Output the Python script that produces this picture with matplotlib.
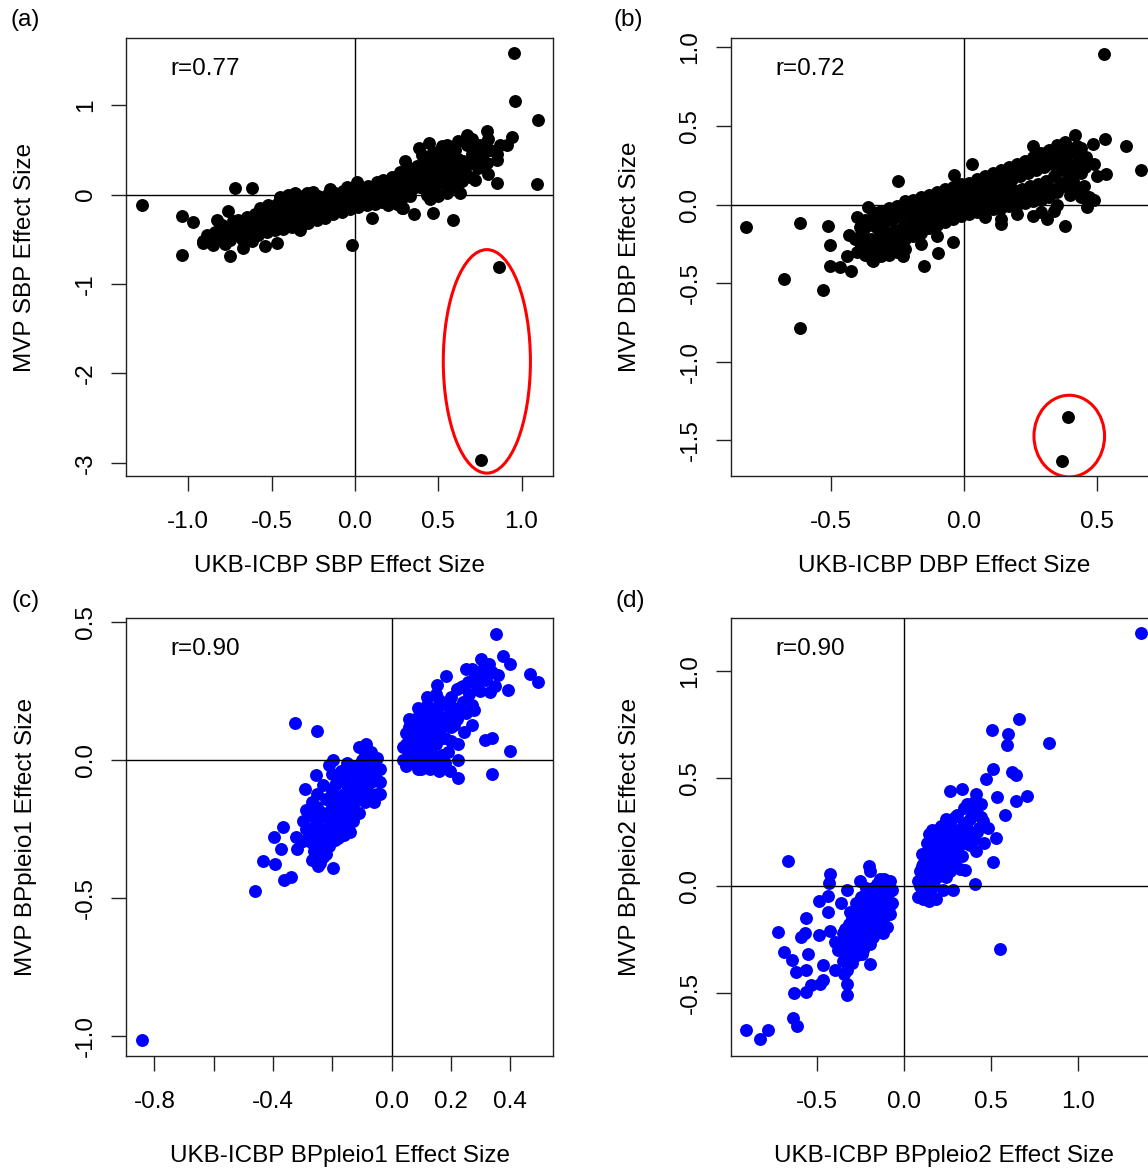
import matplotlib.pyplot as plt
import numpy as np
from matplotlib.patches import Ellipse

plt.rcParams["font.family"] = ["Liberation Sans", "DejaVu Sans"]
plt.rcParams["axes.unicode_minus"] = False

# (x, y) effect sizes, one list per panel
SBP_POINTS = [
    (0.957, 1.587), (0.959, 1.045), (1.099, 0.832), (1.093, 0.12), (-1.279, -0.12),
    (-1.039, -0.243), (-0.969, -0.31), (-1.039, -0.672), (-0.719, 0.075), (-0.615, 0.075),
    (-0.018, -0.567), (0.863, -0.814), (0.757, -2.967), (0.102, -0.261), (0.352, -0.213),
    (0.466, -0.20), (0.586, -0.28), (0.853, 0.13), (0.80, 0.23), (0.673, 0.67),
    (0.793, 0.71), (0.943, 0.646), (0.91, 0.56), (0.853, 0.39), (0.442, 0.58),
    (0.382, 0.52), (0.52, 0.54), (0.632, 0.02), (0.282, -0.15), (-0.749, -0.69),
    (-0.669, -0.60), (-0.909, -0.54), (-0.829, -0.28), (-0.759, -0.187), (-0.539, -0.58),
    (-0.47, -0.54), (-0.33, -0.39), (0.72, 0.168), (0.59, 0.15), (0.73, 0.56),
    (-0.91, -0.52), (-0.89, -0.45), (-0.86, -0.50), (-0.84, -0.42), (-0.85, -0.56),
    (-0.81, -0.48), (-0.79, -0.40), (-0.80, -0.34), (-0.78, -0.55), (-0.76, -0.45),
    (-0.74, -0.38), (-0.75, -0.51), (-0.73, -0.30), (-0.71, -0.44), (-0.69, -0.36),
    (-0.70, -0.28), (-0.68, -0.50), (-0.66, -0.40), (-0.64, -0.33), (-0.65, -0.25),
    (-0.63, -0.47), (-0.61, -0.38), (-0.59, -0.30), (-0.60, -0.22), (-0.58, -0.45),
    (-0.62, -0.52), (-0.57, -0.15), (-0.56, -0.36), (-0.54, -0.28), (-0.55, -0.20),
    (-0.53, -0.42), (-0.52, -0.12), (-0.51, -0.34), (-0.49, -0.26), (-0.50, -0.18),
    (-0.48, -0.40), (-0.47, -0.11), (-0.46, -0.32), (-0.44, -0.24), (-0.45, -0.16),
    (-0.43, -0.38), (-0.42, -0.09), (-0.41, -0.30), (-0.39, -0.22), (-0.40, -0.14),
    (-0.38, -0.36), (-0.37, -0.07), (-0.36, -0.28), (-0.34, -0.20), (-0.35, -0.12),
    (-0.33, -0.34), (-0.32, -0.05), (-0.31, -0.26), (-0.29, -0.18), (-0.30, -0.10),
    (-0.28, -0.32), (-0.27, -0.04), (-0.29, 0.02), (-0.26, -0.22), (-0.24, -0.15),
    (-0.25, -0.08), (-0.23, -0.28), (-0.22, -0.02), (-0.21, -0.20), (-0.19, -0.13),
    (-0.20, -0.06), (-0.18, -0.26), (-0.17, 0.00), (-0.16, -0.17), (-0.14, -0.10),
    (-0.15, -0.04), (-0.13, -0.22), (-0.12, 0.02), (-0.11, -0.14), (-0.09, -0.08),
    (-0.10, -0.02), (-0.08, -0.19), (-0.07, 0.04), (-0.06, -0.12), (-0.04, -0.06),
    (-0.05, 0.00), (-0.03, -0.16), (-0.02, 0.06), (-0.01, -0.10), (0.01, -0.03),
    (0.00, 0.03), (0.02, -0.14), (0.03, 0.08), (0.01, 0.14), (0.04, -0.08),
    (0.06, 0.00), (0.05, 0.05), (0.07, -0.12), (0.08, 0.10), (0.09, -0.05),
    (0.11, 0.02), (0.10, 0.08), (0.12, -0.10), (0.13, 0.14), (0.14, -0.03),
    (0.16, 0.04), (0.15, 0.10), (0.17, 0.16), (0.16, -0.08), (0.19, 0.00),
    (0.21, 0.07), (0.20, 0.14), (0.22, 0.20), (0.18, -0.06), (0.24, 0.02),
    (0.26, 0.10), (0.25, 0.17), (0.27, 0.25), (0.23, -0.05), (0.29, 0.05),
    (0.31, 0.13), (0.30, 0.20), (0.32, 0.30), (0.28, -0.04), (0.30, 0.38),
    (0.34, 0.06), (0.36, 0.15), (0.35, 0.23), (0.37, 0.32), (0.33, -0.02),
    (0.39, 0.08), (0.41, 0.17), (0.40, 0.26), (0.42, 0.36), (0.40, 0.44),
    (0.44, 0.10), (0.46, 0.20), (0.45, 0.30), (0.47, 0.40), (0.43, 0.00),
    (0.49, 0.12), (0.51, 0.22), (0.50, 0.32), (0.52, 0.42), (0.48, 0.05),
    (0.54, 0.15), (0.56, 0.25), (0.55, 0.35), (0.57, 0.45), (0.59, 0.10),
    (0.61, 0.20), (0.60, 0.30), (0.62, 0.40), (0.60, 0.50), (0.64, 0.15),
    (0.66, 0.25), (0.65, 0.38), (0.67, 0.55), (0.69, 0.20), (0.71, 0.35),
    (0.70, 0.45), (0.74, 0.30), (0.76, 0.42), (0.75, 0.55), (0.79, 0.35),
    (0.81, 0.50), (0.80, 0.62),
    (-0.875, -0.47), (-0.825, -0.45), (-0.775, -0.42), (-0.725, -0.40), (-0.675, -0.32),
    (-0.625, -0.36), (-0.575, -0.33), (-0.525, -0.24), (-0.475, -0.29), (-0.425, -0.19),
    (-0.375, -0.25), (-0.325, -0.15), (-0.275, -0.22), (-0.225, -0.10), (-0.175, -0.17),
    (-0.125, -0.05), (-0.075, -0.11), (-0.025, -0.03), (0.025, -0.06), (0.075, 0.04),
    (0.125, 0.05), (0.175, 0.10), (0.225, 0.03), (0.275, 0.14), (0.325, 0.09),
    (0.375, 0.20), (0.425, 0.13), (0.475, 0.26), (0.525, 0.17), (0.575, 0.30),
    (0.625, 0.25), (0.675, 0.33), (0.725, 0.40), (0.775, 0.48), (0.85, 0.45),
    (0.87, 0.55), (0.62, 0.60), (0.70, 0.62), (0.55, 0.55), (0.47, 0.48),
    (-0.15, 0.06), (-0.25, 0.03), (-0.35, 0.00), (-0.05, 0.09), (-0.40, 0.00),
    (-0.45, -0.03), (-0.36, 0.02), (0.29, -0.15), (0.25, -0.10), (0.20, -0.12),
    (0.45, -0.05), (0.50, -0.02), (0.55, 0.02), (0.56, 0.06), (0.60, 0.08),
]

DBP_POINTS = [
    (0.525, 0.96), (0.61, 0.375), (0.665, 0.22), (-0.818, -0.144), (-0.613, -0.12),
    (-0.676, -0.473), (-0.528, -0.545), (-0.613, -0.785), (0.392, -1.354), (0.37, -1.63),
    (0.031, 0.255), (-0.037, 0.187), (-0.247, 0.151), (-0.151, -0.389), (-0.096, -0.31),
    (-0.041, -0.24), (0.38, -0.137), (0.259, 0.372), (0.416, 0.44), (0.53, 0.42),
    (0.534, 0.192), (0.484, 0.384), (0.462, -0.017), (0.488, 0.03), (0.14, -0.125),
    (-0.509, -0.137), (-0.503, -0.257), (-0.503, -0.389), (-0.463, -0.40), (-0.424, -0.425),
    (-0.437, -0.33), (-0.43, -0.197), (-0.358, -0.017), (-0.345, -0.353), (-0.227, -0.33),
    (0.311, -0.09), (0.337, -0.04), (0.44, 0.36), (0.46, 0.30), (0.49, 0.26),
    (0.50, 0.18), (0.45, 0.12), (0.42, 0.10), (0.47, 0.05), (0.40, 0.06),
    (-0.40, -0.30), (-0.41, -0.22), (-0.39, -0.14), (-0.40, -0.08), (-0.37, -0.32),
    (-0.36, -0.25), (-0.38, -0.17), (-0.37, -0.10), (-0.34, -0.30), (-0.35, -0.22),
    (-0.33, -0.14), (-0.34, -0.05), (-0.34, -0.36), (-0.31, -0.28), (-0.32, -0.20),
    (-0.30, -0.12), (-0.31, -0.04), (-0.31, -0.33), (-0.28, -0.26), (-0.29, -0.18),
    (-0.27, -0.10), (-0.28, -0.02), (-0.28, -0.32), (-0.25, -0.25), (-0.26, -0.16),
    (-0.24, -0.08), (-0.25, -0.01), (-0.25, -0.30), (-0.22, -0.22), (-0.23, -0.14),
    (-0.21, -0.06), (-0.22, 0.02), (-0.22, -0.28), (-0.19, -0.20), (-0.20, -0.12),
    (-0.18, -0.04), (-0.19, 0.03), (-0.16, -0.18), (-0.17, -0.10), (-0.15, -0.02),
    (-0.16, 0.05), (-0.16, -0.25), (-0.13, -0.15), (-0.14, -0.08), (-0.12, 0.00),
    (-0.13, 0.06), (-0.10, -0.13), (-0.11, -0.06), (-0.09, 0.01), (-0.10, 0.08),
    (-0.10, -0.20), (-0.07, -0.11), (-0.08, -0.04), (-0.06, 0.03), (-0.07, 0.10),
    (-0.04, -0.09), (-0.05, -0.02), (-0.03, 0.04), (-0.04, 0.11), (-0.01, -0.07),
    (-0.02, 0.00), (0.00, 0.06), (-0.01, 0.13), (0.02, -0.06), (0.01, 0.01),
    (0.03, 0.07), (0.02, 0.14), (0.05, -0.05), (0.04, 0.02), (0.06, 0.09),
    (0.05, 0.16), (0.08, -0.04), (0.07, 0.04), (0.09, 0.11), (0.08, 0.18),
    (0.08, -0.08), (0.11, -0.03), (0.10, 0.05), (0.12, 0.12), (0.11, 0.20),
    (0.14, -0.02), (0.13, 0.06), (0.15, 0.14), (0.14, 0.22), (0.14, -0.09),
    (0.17, -0.01), (0.16, 0.08), (0.18, 0.16), (0.17, 0.24), (0.20, 0.00),
    (0.19, 0.09), (0.21, 0.18), (0.20, 0.26), (0.20, -0.06), (0.23, 0.01),
    (0.22, 0.10), (0.24, 0.20), (0.23, 0.28), (0.26, 0.02), (0.25, 0.12),
    (0.27, 0.22), (0.26, 0.30), (0.26, -0.07), (0.29, 0.03), (0.28, 0.13),
    (0.30, 0.24), (0.29, 0.33), (0.29, -0.05), (0.32, 0.05), (0.31, 0.15),
    (0.33, 0.26), (0.32, 0.35), (0.35, 0.08), (0.34, 0.18), (0.36, 0.28),
    (0.35, 0.38), (0.35, 0.00), (0.38, 0.12), (0.37, 0.22), (0.39, 0.32),
    (0.38, 0.40), (0.41, 0.15), (0.40, 0.25), (0.42, 0.33), (0.44, 0.20),
    (0.43, 0.28), (0.44, 0.05),
    (-0.385, -0.26), (-0.355, -0.13), (-0.325, -0.25), (-0.295, -0.08), (-0.265, -0.21),
    (-0.235, -0.04), (-0.205, -0.16), (-0.175, 0.00), (-0.145, -0.13), (-0.115, 0.03),
    (-0.085, -0.08), (-0.055, 0.07), (-0.025, -0.05), (0.005, 0.09), (0.035, -0.02),
    (0.065, 0.12), (0.095, 0.00), (0.125, 0.16), (0.155, 0.02), (0.185, 0.20),
    (0.215, 0.05), (0.245, 0.24), (0.275, 0.08), (0.305, 0.28), (0.335, 0.10),
    (0.365, 0.33), (0.395, 0.18), (0.425, 0.37), (0.455, 0.24),
    (-0.385, -0.19), (-0.355, -0.28), (-0.325, -0.09), (-0.295, -0.23), (-0.265, -0.05),
    (-0.235, -0.19), (-0.205, -0.01), (-0.175, -0.15), (-0.145, 0.02), (-0.115, -0.10),
    (-0.085, 0.05), (-0.055, -0.07), (-0.025, 0.08), (0.005, -0.03), (0.035, 0.11),
    (0.065, 0.00), (0.095, 0.15), (0.125, 0.01), (0.155, 0.19), (0.185, 0.04),
    (0.215, 0.22), (0.245, 0.06), (0.275, 0.26), (0.305, 0.09), (0.335, 0.30),
    (0.365, 0.14), (0.395, 0.36), (0.425, 0.22),
]

PLEIO1_POINTS = [
    (-0.8425, -1.012), (-0.46, -0.473), (-0.326, 0.136), (-0.251, 0.106), (0.3525, 0.458),
    (0.3775, 0.38), (0.40, 0.35), (0.4675, 0.3125), (0.496, 0.285), (0.40, 0.033),
    (0.34, -0.049), (0.224, -0.065), (0.196, -0.038), (0.224, 0.0), (0.225, 0.061),
    (0.315, 0.075), (0.34, 0.082), (0.3925, 0.255), (0.334, 0.247), (0.2775, 0.183),
    (0.184, 0.306), (0.1525, 0.272), (0.3025, 0.367), (0.2525, 0.333), (0.259, 0.285),
    (0.234, 0.265), (0.246, 0.102), (0.271, 0.129), (-0.1975, -0.391), (-0.2475, -0.383),
    (-0.3625, -0.435), (-0.3375, -0.424), (-0.394, -0.374), (-0.435, -0.364), (-0.3725, -0.322),
    (-0.3975, -0.276), (-0.366, -0.242), (-0.3225, -0.279), (-0.319, -0.322), (-0.30, -0.292),
    (-0.22, -0.34), (-0.2475, -0.3125), (-0.291, -0.105), (-0.254, -0.054), (-0.21, -0.016),
    (-0.1975, 0.003), (-0.11, 0.048), (-0.085, 0.058),
    (-0.30, -0.22), (-0.28, -0.25), (-0.27, -0.20), (-0.26, -0.28), (-0.25, -0.22),
    (-0.25, -0.17), (-0.24, -0.30), (-0.24, -0.25), (-0.23, -0.19), (-0.22, -0.14),
    (-0.22, -0.27), (-0.21, -0.22), (-0.20, -0.17), (-0.20, -0.11), (-0.19, -0.25),
    (-0.19, -0.20), (-0.18, -0.14), (-0.18, -0.08), (-0.17, -0.22), (-0.17, -0.17),
    (-0.16, -0.12), (-0.16, -0.06), (-0.15, -0.20), (-0.15, -0.15), (-0.14, -0.10),
    (-0.14, -0.04), (-0.13, -0.17), (-0.13, -0.12), (-0.12, -0.07), (-0.12, -0.02),
    (-0.11, -0.14), (-0.11, -0.09), (-0.10, -0.05), (-0.10, 0.00), (-0.09, -0.11),
    (-0.09, -0.06), (-0.08, -0.02), (-0.08, 0.02), (-0.07, -0.08), (-0.07, -0.04),
    (-0.06, -0.01), (-0.06, -0.05), (-0.26, -0.33), (-0.23, -0.35), (-0.21, -0.31),
    (-0.18, -0.28), (-0.27, -0.15), (-0.29, -0.18), (-0.20, -0.05), (-0.15, -0.01),
    (-0.12, -0.19), (-0.16, -0.24), (-0.14, -0.26), (-0.04, -0.03), (-0.04, -0.08),
    (-0.05, 0.01), (-0.05, -0.12), (-0.06, -0.15), (-0.07, 0.03), (-0.13, -0.22),
    (-0.16, -0.27), (-0.19, -0.29), (-0.22, -0.25),
    (-0.29, -0.25), (-0.27, -0.30), (-0.25, -0.12), (-0.23, -0.09), (-0.21, -0.27),
    (-0.21, -0.14), (-0.19, -0.09), (-0.17, -0.04), (-0.17, -0.27), (-0.15, -0.09),
    (-0.13, -0.04), (-0.11, -0.03), (-0.11, -0.19), (-0.09, 0.02), (-0.09, -0.15),
    (-0.08, -0.08), (-0.07, -0.12), (-0.05, -0.07), (-0.04, -0.12), (-0.18, -0.20),
    (-0.20, -0.23), (-0.24, -0.20), (-0.26, -0.24), (-0.28, -0.29), (-0.14, -0.16),
    (-0.12, -0.11), (-0.10, -0.09), (-0.08, -0.04), (-0.24, -0.37), (-0.27, -0.36),
    (0.04, 0.0), (0.04, 0.05), (0.05, 0.10), (0.05, -0.02), (0.06, 0.03),
    (0.06, 0.08), (0.07, 0.12), (0.07, 0.0), (0.08, 0.05), (0.08, 0.15),
    (0.09, 0.10), (0.09, -0.03), (0.10, 0.02), (0.10, 0.07), (0.10, 0.17),
    (0.11, 0.12), (0.11, 0.0), (0.12, 0.05), (0.12, 0.20), (0.13, 0.09),
    (0.13, -0.03), (0.13, 0.15), (0.14, 0.02), (0.14, 0.12), (0.15, 0.18),
    (0.15, 0.06), (0.16, -0.04), (0.16, 0.22), (0.16, 0.10), (0.17, 0.14),
    (0.17, 0.02), (0.18, 0.08), (0.18, 0.20), (0.19, 0.16), (0.20, 0.23),
    (0.20, 0.12), (0.21, 0.19), (0.22, 0.26), (0.22, 0.15), (0.24, 0.21),
    (0.25, 0.17), (0.26, 0.24), (0.28, 0.30), (0.29, 0.27), (0.31, 0.33),
    (0.32, 0.29), (0.34, 0.32), (0.36, 0.31), (0.30, 0.25), (0.06, 0.15),
    (0.09, 0.19), (0.12, -0.01), (0.15, 0.0), (0.18, -0.01),
    (0.05, 0.06), (0.06, -0.01), (0.07, 0.08), (0.08, 0.00), (0.08, 0.10),
    (0.09, 0.04), (0.10, 0.12), (0.11, 0.06), (0.11, 0.16), (0.12, 0.10),
    (0.13, 0.04), (0.13, 0.19), (0.14, 0.07), (0.15, 0.13), (0.16, 0.16),
    (0.17, 0.08), (0.18, 0.13), (0.19, 0.21), (0.21, 0.13), (0.23, 0.18),
    (0.24, 0.27), (0.27, 0.20), (0.27, 0.33), (0.30, 0.30), (0.33, 0.35),
    (0.35, 0.27), (0.19, 0.03), (0.14, -0.02), (0.10, -0.03), (0.06, 0.12),
    (0.15, 0.24), (0.12, 0.23), (0.20, 0.07),
]

PLEIO2_POINTS = [
    (1.361, 1.175), (0.829, 0.664), (0.659, 0.774), (0.502, 0.726), (0.598, 0.708),
    (0.588, 0.656), (0.512, 0.545), (0.472, 0.495), (0.618, 0.528), (0.639, 0.516),
    (0.703, 0.416), (0.643, 0.393), (0.532, 0.411), (0.578, 0.329), (0.528, 0.224),
    (0.508, 0.11), (0.408, 0.009), (0.347, 0.075), (0.548, -0.294), (0.263, 0.44),
    (0.331, 0.451), (0.414, 0.428), (-0.667, 0.114), (-0.908, -0.673), (-0.831, -0.712),
    (-0.781, -0.673), (-0.641, -0.617), (-0.616, -0.652), (-0.727, -0.213), (-0.693, -0.309),
    (-0.647, -0.346), (-0.635, -0.498), (-0.622, -0.402), (-0.566, -0.393), (-0.566, -0.493),
    (-0.536, -0.463), (-0.486, -0.455), (-0.466, -0.437), (-0.552, -0.318), (-0.594, -0.236),
    (-0.570, -0.219), (-0.566, -0.152), (-0.492, -0.073), (-0.436, -0.047), (-0.434, 0.012),
    (-0.426, 0.056), (-0.329, -0.51), (-0.329, -0.458), (-0.345, -0.411), (-0.396, -0.393),
    (-0.466, -0.367), (-0.195, -0.362), (-0.245, -0.318), (-0.195, -0.271), (-0.201, 0.093),
    (-0.20, 0.07), (-0.331, -0.021), (-0.365, -0.082), (-0.436, -0.122), (-0.49, -0.227),
    (-0.43, -0.21), (-0.255, 0.021), (-0.118, 0.031), (-0.104, -0.026), (-0.094, -0.114),
    (-0.110, -0.192),
    (-0.36, -0.27), (-0.35, -0.22), (-0.34, -0.30), (-0.33, -0.25), (-0.32, -0.18),
    (-0.31, -0.28), (-0.30, -0.22), (-0.30, -0.15), (-0.29, -0.30), (-0.28, -0.25),
    (-0.28, -0.18), (-0.27, -0.12), (-0.26, -0.22), (-0.26, -0.28), (-0.25, -0.15),
    (-0.25, -0.09), (-0.24, -0.20), (-0.23, -0.25), (-0.23, -0.12), (-0.22, -0.06),
    (-0.22, -0.17), (-0.21, -0.22), (-0.20, -0.10), (-0.20, -0.03), (-0.19, -0.15),
    (-0.19, -0.20), (-0.18, -0.07), (-0.18, -0.01), (-0.17, -0.12), (-0.17, -0.18),
    (-0.16, -0.04), (-0.16, 0.01), (-0.15, -0.09), (-0.15, -0.15), (-0.14, -0.02),
    (-0.14, 0.03), (-0.13, -0.07), (-0.13, -0.12), (-0.12, 0.0), (-0.12, -0.04),
    (-0.11, -0.09), (-0.11, -0.14), (-0.10, -0.02), (-0.10, -0.06), (-0.09, -0.03),
    (-0.09, -0.10), (-0.27, -0.32), (-0.24, -0.30), (-0.32, -0.33), (-0.38, -0.30),
    (-0.40, -0.26), (-0.35, -0.35), (-0.07, -0.02), (-0.07, -0.08), (-0.08, 0.02),
    (-0.08, -0.13), (-0.10, -0.19), (-0.12, -0.22),
    (-0.34, -0.20), (-0.32, -0.27), (-0.31, -0.12), (-0.29, -0.20), (-0.27, -0.26),
    (-0.26, -0.17), (-0.24, -0.12), (-0.24, -0.24), (-0.22, -0.20), (-0.21, -0.14),
    (-0.20, -0.17), (-0.18, -0.12), (-0.16, -0.09), (-0.16, -0.18), (-0.14, -0.06),
    (-0.13, -0.16), (-0.12, -0.08), (-0.11, -0.01), (-0.10, -0.12), (-0.09, 0.01),
    (-0.21, -0.26), (-0.18, -0.24), (-0.15, -0.21), (-0.30, -0.36), (-0.33, -0.39),
    (-0.25, -0.05), (-0.22, -0.01), (-0.28, -0.08),
    (0.08, -0.05), (0.08, 0.02), (0.09, 0.07), (0.10, -0.02), (0.10, 0.04),
    (0.11, 0.10), (0.11, -0.06), (0.12, 0.01), (0.12, 0.07), (0.13, 0.14),
    (0.13, 0.20), (0.14, 0.03), (0.14, 0.10), (0.15, -0.03), (0.15, 0.17),
    (0.16, 0.06), (0.16, 0.12), (0.17, 0.22), (0.17, 0.0), (0.18, 0.09),
    (0.18, 0.15), (0.19, 0.26), (0.19, 0.04), (0.20, 0.12), (0.20, 0.19),
    (0.21, 0.07), (0.21, 0.23), (0.22, 0.15), (0.22, -0.02), (0.23, 0.10),
    (0.23, 0.28), (0.24, 0.19), (0.25, 0.13), (0.25, 0.24), (0.26, 0.07),
    (0.26, 0.30), (0.27, 0.17), (0.28, 0.22), (0.28, -0.02), (0.29, 0.12),
    (0.30, 0.26), (0.30, 0.33), (0.31, 0.18), (0.32, 0.23), (0.33, 0.14),
    (0.34, 0.29), (0.35, 0.20), (0.36, 0.38), (0.37, 0.25), (0.38, 0.31),
    (0.40, 0.22), (0.41, 0.16), (0.42, 0.34), (0.43, 0.27), (0.44, 0.38),
    (0.45, 0.30), (0.46, 0.20), (0.48, 0.27), (0.14, -0.07), (0.18, -0.06),
    (0.24, 0.04), (0.32, 0.08), (0.40, 0.39),
    (0.09, 0.00), (0.10, 0.09), (0.11, 0.15), (0.12, 0.04), (0.13, 0.10),
    (0.14, 0.17), (0.15, 0.08), (0.16, 0.21), (0.17, 0.13), (0.18, 0.04),
    (0.19, 0.18), (0.20, 0.09), (0.21, 0.28), (0.22, 0.20), (0.23, 0.14),
    (0.24, 0.31), (0.25, 0.07), (0.27, 0.26), (0.28, 0.17), (0.29, 0.32),
    (0.31, 0.24), (0.33, 0.20), (0.34, 0.36), (0.36, 0.27), (0.38, 0.19),
    (0.39, 0.35), (0.42, 0.25), (0.44, 0.32), (0.12, -0.04), (0.10, 0.15),
    (0.16, 0.26), (0.14, 0.24),
]

R_LABELS = ["r=0.77", "r=0.72", "r=0.90", "r=0.90"]
PANEL_TAGS = ["(a)", "(b)", "(c)", "(d)"]
X_LABELS = [
    "UKB-ICBP SBP Effect Size",
    "UKB-ICBP DBP Effect Size",
    "UKB-ICBP BPpleio1 Effect Size",
    "UKB-ICBP BPpleio2 Effect Size",
]
Y_LABELS = [
    "MVP SBP Effect Size",
    "MVP DBP Effect Size",
    "MVP BPpleio1 Effect Size",
    "MVP BPpleio2 Effect Size",
]
X_TICKS = [
    [-1.0, -0.5, 0.0, 0.5, 1.0],
    [-0.5, 0.0, 0.5],
    [-0.8, -0.6, -0.4, -0.2, 0.0, 0.2, 0.4],
    [-0.5, 0.0, 0.5, 1.0],
]
X_TICK_LABELS = [
    ["-1.0", "-0.5", "0.0", "0.5", "1.0"],
    ["-0.5", "0.0", "0.5"],
    ["-0.8", "", "-0.4", "", "0.0", "0.2", "0.4"],
    ["-0.5", "0.0", "0.5", "1.0"],
]
Y_TICKS = [
    [-3, -2, -1, 0, 1],
    [-1.5, -1.0, -0.5, 0.0, 0.5, 1.0],
    [-1.0, -0.5, 0.0, 0.5],
    [-0.5, 0.0, 0.5, 1.0],
]
Y_TICK_LABELS = [
    ["-3", "-2", "-1", "0", "1"],
    ["-1.5", "-1.0", "-0.5", "0.0", "0.5", "1.0"],
    ["-1.0", "-0.5", "0.0", "0.5"],
    ["-0.5", "0.0", "0.5", "1.0"],
]
# highlighted outliers: centre x, centre y, width, height
SBP_ELLIPSE = (0.792, -1.865, 0.523, 2.50)
DBP_ELLIPSE = (0.396, -1.474, 0.265, 0.52)

X_LIMITS = [(-1.374, 1.189), (-0.875, 0.728), (-0.895, 0.546), (-0.998, 1.456)]
Y_LIMITS = [(-3.147, 1.752), (-1.728, 1.06), (-1.071, 0.516), (-0.792, 1.246)]
COLORS = ["black", "black", "#0000ff", "#0000ff"]

W, H = 1148, 1169
FONT = 17.5

fig = plt.figure(figsize=(W / 100, H / 100), dpi=100)

# box pixel corners (left, top) and size
boxes = [(126, 38), (730.7, 38), (126.3, 618), (730.7, 618)]
box_w, box_h = 427, 438
xlabel_base = [95.5, 96.5, 106, 106]
tag_pos = [(25, 26), (628, 26), (26, 607), (630, 607)]

panels = [SBP_POINTS, DBP_POINTS, PLEIO1_POINTS, PLEIO2_POINTS]

for i, pts in enumerate(panels):
    left, top = boxes[i]
    ax = fig.add_axes([left / W, 1 - (top + box_h) / H, box_w / W, box_h / H])
    xs, ys = np.array(pts).T
    ax.plot(xs, ys, "o", color=COLORS[i], markersize=9.3, markeredgewidth=0, zorder=2)
    ax.axhline(0, color="black", lw=1.0, zorder=3)
    ax.axvline(0, color="black", lw=1.0, zorder=3)

    ax.set_xlim(X_LIMITS[i])
    ax.set_ylim(Y_LIMITS[i])
    ax.set_xticks(X_TICKS[i])
    ax.set_xticklabels(X_TICK_LABELS[i])
    ax.set_yticks(Y_TICKS[i])
    ax.set_yticklabels(Y_TICK_LABELS[i], rotation=90, va="center")
    ax.tick_params(axis="both", direction="out", length=10.8, width=1.0,
                   labelsize=FONT, color="#222222")
    ax.tick_params(axis="x", pad=14.6)
    ax.tick_params(axis="y", pad=10.3)
    for sp in ax.spines.values():
        sp.set_linewidth(1.0)
        sp.set_color("#222222")

    ax.set_xlabel(X_LABELS[i], fontsize=FONT, va="baseline")
    ax.xaxis.set_label_coords(0.5, -xlabel_base[i] / box_h)
    ax.set_ylabel(Y_LABELS[i], fontsize=FONT, va="baseline")
    ax.yaxis.set_label_coords(-94.6 / box_w, 0.5)

    ax.text(79 / box_w, 1 - 37.4 / box_h, R_LABELS[i], transform=ax.transAxes,
            ha="center", va="baseline", fontsize=FONT)

    fig.text(tag_pos[i][0] / W, 1 - tag_pos[i][1] / H, PANEL_TAGS[i],
             ha="center", va="baseline", fontsize=FONT)

    if i == 0:
        ell = SBP_ELLIPSE
    elif i == 1:
        ell = DBP_ELLIPSE
    else:
        ell = None
    if ell is not None:
        ax.add_patch(Ellipse((ell[0], ell[1]), ell[2], ell[3], fill=False,
                             edgecolor="red", lw=2.2, zorder=4))

fig.savefig("out.png", dpi=100)
